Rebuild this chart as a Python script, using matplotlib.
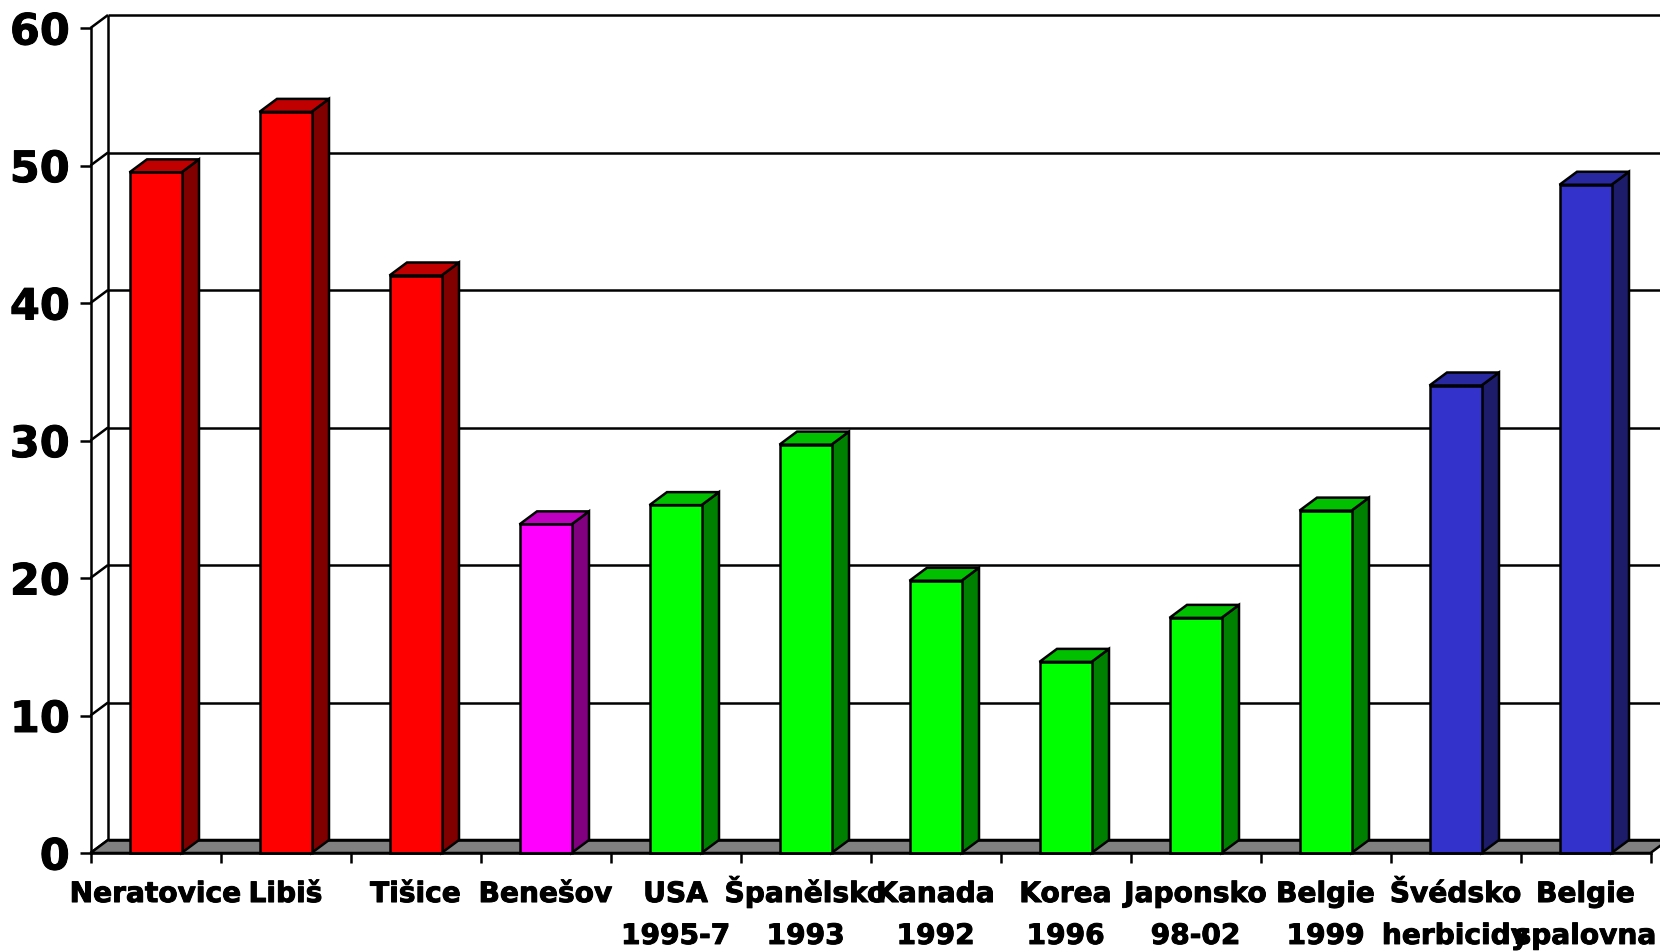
import matplotlib
matplotlib.use("Agg")
import matplotlib.pyplot as plt
from matplotlib.patches import Polygon
from matplotlib.transforms import blended_transform_factory
import matplotlib.patheffects as pe

categories = ["Neratovice", "Libiš", "Tišice", "Benešov", "USA\n1995-7", "Španělsko\n1993",
              "Kanada\n1992", "Korea\n1996", "Japonsko\n98-02", "Belgie\n1999",
              "Švédsko\nherbicidy", "Belgie\nspalovna"]
values = [49.5, 53.9, 42.0, 23.9, 25.3, 29.7, 19.8, 13.9, 17.1, 24.9, 34.0, 48.6]
groups = ["red", "red", "red", "magenta", "green", "green", "green", "green", "green", "green", "blue", "blue"]
palette = {
    "red": ("#FF0000", "#C00000", "#800000"),
    "magenta": ("#FF00FF", "#C000C0", "#800080"),
    "green": ("#00FF00", "#00C000", "#008000"),
    "blue": ("#3333CC", "#2828A0", "#1C1C6A"),
}
y_ticks = [0, 10, 20, 30, 40, 50, 60]

W, H = 1660, 953
LEFT, RIGHT, BOTTOM, TOP = 90.5, 1650.5, 854, 29
LW = 1.8
plt.rcParams["font.family"] = ["DejaVu Sans"]
plt.rcParams["font.weight"] = "bold"

fig = plt.figure(figsize=(W / 100, H / 100), dpi=100, facecolor="white")
ax = fig.add_axes([LEFT / W, 1 - BOTTOM / H, (RIGHT - LEFT) / W, (BOTTOM - TOP) / H])
ax.set_xlim(0, len(categories))
ax.set_ylim(0, 60)
ax.patch.set_visible(False)

cat_px = (RIGHT - LEFT) / len(categories)
unit_px = (BOTTOM - TOP) / 60
dx = 17.5 / cat_px    # depth, in category units
dy = 13 / unit_px     # depth, in value units
bar_w = 0.4
far_x = (W - LEFT) / cat_px + 1


def poly(pts, fc, z):
    ax.add_patch(Polygon(pts, closed=True, facecolor=fc, edgecolor="black", lw=LW,
                         joinstyle="miter", clip_on=False, zorder=z))


def line(xs, ys, z=1):
    ax.plot(xs, ys, color="black", lw=LW, clip_on=False, zorder=z, solid_capstyle="butt")


# floor
n = len(categories)
poly([(0, 0), (n, 0), (n + dx, dy), (dx, dy)], "#808080", 1.5)
line([dx, far_x], [dy, dy], 1.6)

# back wall, gridlines, and the side-wall diagonals
for v in y_ticks:
    if v > 0:
        line([dx, far_x], [v + dy, v + dy])
    line([0, dx], [v, v + dy])
line([dx, dx], [dy, 60 + dy])

# bars
for i, (v, g) in enumerate(zip(values, groups)):
    x0 = i + 0.5 - bar_w / 2
    x1 = i + 0.5 + bar_w / 2
    front, top, side = palette[g]
    poly([(x1, 0), (x1 + dx, dy), (x1 + dx, v + dy), (x1, v)], side, 3)
    poly([(x0, v), (x1, v), (x1 + dx, v + dy), (x0 + dx, v + dy)], top, 3)
    poly([(x0, 0), (x1, 0), (x1, v), (x0, v)], front, 3.1)

# axes
for s in ("top", "right"):
    ax.spines[s].set_visible(False)
for s in ("left", "bottom"):
    ax.spines[s].set_linewidth(LW)
    ax.spines[s].set_zorder(4)

heavy = [pe.withStroke(linewidth=0.7, foreground="black")]

ax.set_yticks(y_ticks)
ax.set_yticklabels([str(v) for v in y_ticks], fontsize=31, fontweight="bold", path_effects=heavy)
ax.tick_params(axis="y", length=8, width=LW, pad=7)

ax.set_xticks(range(n + 1))
ax.set_xticklabels([])
ax.tick_params(axis="x", which="major", length=7.2, width=LW)

# category labels: each line on a fixed baseline below the axis
trans = blended_transform_factory(ax.transData, ax.transAxes)
for i, label in enumerate(categories):
    for k, part in enumerate(label.split("\n")):
        ax.annotate(part, xy=(i + 0.5, 0), xycoords=trans,
                    xytext=(0, -(35.3 + 30.2 * k)), textcoords="offset points",
                    ha="center", va="baseline", fontsize=20.2, fontweight="bold",
                    path_effects=heavy, annotation_clip=False)

fig.savefig("out.png", dpi=100, facecolor="white")
